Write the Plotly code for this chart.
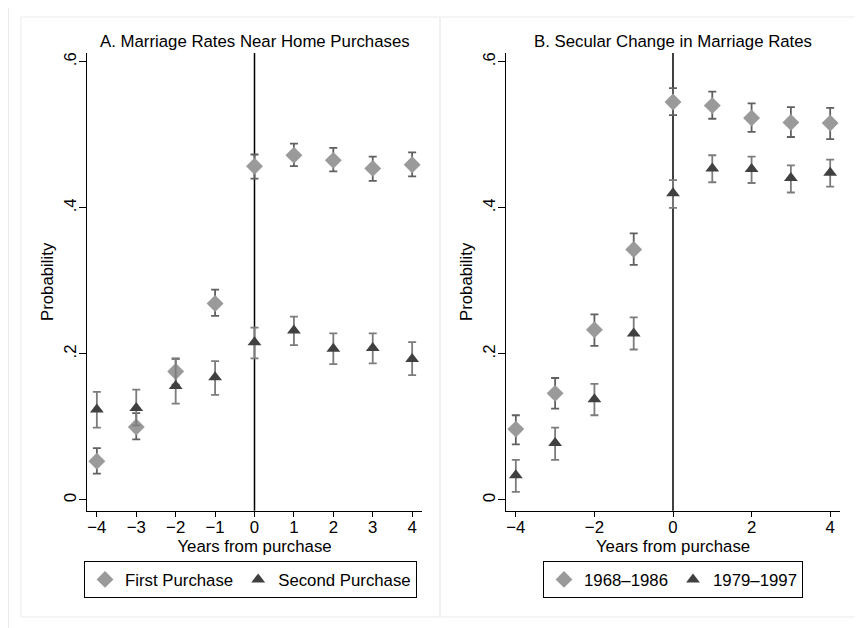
import plotly.graph_objects as go

years = [-4, -3, -2, -1, 0, 1, 2, 3, 4]

# Panel A: marriage rates near home purchases
first_purchase = [0.053, 0.100, 0.176, 0.269, 0.457, 0.472, 0.465, 0.454, 0.459]
first_hi = [0.071, 0.119, 0.194, 0.288, 0.473, 0.488, 0.482, 0.470, 0.476]
first_lo = [0.036, 0.083, 0.158, 0.252, 0.440, 0.457, 0.450, 0.437, 0.443]

second_purchase = [0.124, 0.126, 0.156, 0.168, 0.216, 0.232, 0.207, 0.208, 0.193]
second_hi = [0.148, 0.151, 0.193, 0.190, 0.236, 0.251, 0.228, 0.228, 0.216]
second_lo = [0.099, 0.102, 0.132, 0.144, 0.194, 0.212, 0.186, 0.187, 0.171]

# Panel B: secular change in marriage rates
cohort_68 = [0.097, 0.146, 0.233, 0.343, 0.545, 0.540, 0.523, 0.517, 0.516]
cohort_68_hi = [0.116, 0.167, 0.254, 0.365, 0.564, 0.559, 0.543, 0.538, 0.537]
cohort_68_lo = [0.076, 0.125, 0.211, 0.322, 0.527, 0.522, 0.504, 0.497, 0.494]

cohort_79 = [0.034, 0.078, 0.138, 0.228, 0.420, 0.454, 0.453, 0.441, 0.448]
cohort_79_hi = [0.055, 0.099, 0.159, 0.250, 0.438, 0.472, 0.470, 0.458, 0.466]
cohort_79_lo = [0.011, 0.055, 0.116, 0.206, 0.400, 0.435, 0.434, 0.421, 0.429]

y_ticks = [0, 0.2, 0.4, 0.6]
y_labels = ["0", ".2", ".4", ".6"]

# the page body has an 8px margin, so the figure is sized to fit the window
OFF = 8
W, H = 863 - OFF, 628 - OFF
FONT = "Liberation Sans, Arial, sans-serif"
FS = 16.8
LIGHT = "#9a9a9a"
DARK = "#404040"


def px_x(v):
    return (v - OFF) / W


def px_y(v):
    return 1 - (v - OFF) / H


def add_series(fig, y, hi, lo, name, symbol, color, bar_color, size, xa, ya, legend):
    fig.add_trace(go.Scatter(
        x=years, y=y, mode="markers", name=name,
        marker=dict(symbol=symbol, size=size, color=color, line=dict(width=0)),
        error_y=dict(
            type="data", symmetric=False,
            array=[h - v for h, v in zip(hi, y)],
            arrayminus=[v - l for v, l in zip(y, lo)],
            color=bar_color, thickness=1.8, width=4,
        ),
        xaxis=xa, yaxis=ya, legend=legend,
    ))


fig = go.Figure()
add_series(fig, first_purchase, first_hi, first_lo, "First Purchase",
           "diamond", LIGHT, "#606060", 13, "x", "y", "legend")
add_series(fig, second_purchase, second_hi, second_lo, "Second Purchase",
           "triangle-up", DARK, "#7c7c7c", 12, "x", "y", "legend")
add_series(fig, cohort_68, cohort_68_hi, cohort_68_lo, "1968\u20131986",
           "diamond", LIGHT, "#606060", 13, "x2", "y2", "legend2")
add_series(fig, cohort_79, cohort_79_hi, cohort_79_lo, "1979\u20131997",
           "triangle-up", DARK, "#7c7c7c", 12, "x2", "y2", "legend2")

yrange = [-0.0147, 0.612]
xrange_ = [-4.25, 4.25]
ydom = [px_y(510.7), px_y(53)]

axis_font = dict(family=FONT, size=FS, color="black")
yaxis_common = dict(
    range=yrange, domain=ydom, tickvals=y_ticks, ticktext=y_labels,
    tickangle=-90, ticks="outside", ticklen=7, tickcolor="black",
    showline=True, linecolor="black", linewidth=1.2, showgrid=False,
    zeroline=False, tickfont=axis_font, ticklabelstandoff=-4,
    title=dict(text="Probability", font=axis_font, standoff=3),
)
xaxis_common = dict(
    range=xrange_, ticks="outside", ticklen=5, tickcolor="black",
    showline=True, linecolor="black", linewidth=1.2, showgrid=False,
    zeroline=False, tickfont=axis_font, ticklabelstandoff=-4,
    title=dict(text="Years from purchase", font=axis_font, standoff=0),
)

legend_common = dict(
    orientation="h", yanchor="middle", xanchor="center",
    bordercolor="black", borderwidth=1, bgcolor="white",
    font=dict(family=FONT, size=FS, color="black"),
)

title_font = dict(family=FONT, size=FS, color="black")

fig.update_layout(
    width=W, height=H,
    margin=dict(l=0, r=0, t=0, b=0),
    paper_bgcolor="white", plot_bgcolor="white",
    font=dict(family=FONT, color="black"),
    xaxis=dict(xaxis_common, domain=[px_x(87), px_x(422)], dtick=1, anchor="y"),
    yaxis=dict(yaxis_common, anchor="x"),
    xaxis2=dict(xaxis_common, domain=[px_x(506), px_x(840)],
                tickvals=[-4, -2, 0, 2, 4], anchor="y2"),
    yaxis2=dict(yaxis_common, anchor="x2"),
    legend=dict(legend_common, x=px_x(250.5), y=px_y(579.5)),
    legend2=dict(legend_common, x=px_x(673), y=px_y(579.5)),
    annotations=[
        dict(text="A. Marriage Rates Near Home Purchases", x=px_x(254.5), y=px_y(42),
             xref="paper", yref="paper", xanchor="center", yanchor="middle",
             showarrow=False, font=title_font),
        dict(text="B. Secular Change in Marriage Rates", x=px_x(673), y=px_y(42),
             xref="paper", yref="paper", xanchor="center", yanchor="middle",
             showarrow=False, font=title_font),
    ],
)

# vertical reference line at purchase year
for xr, yr in [("x", "y domain"), ("x2", "y2 domain")]:
    fig.add_shape(type="line", xref=xr, yref=yr, x0=0, x1=0, y0=0, y1=1,
                  line=dict(color="black", width=1.5), layer="below")

# faint panel frames (Stata graph regions)
frame = dict(color="#ebebeb", width=1)
fig.add_shape(type="line", xref="paper", yref="paper",
              x0=px_x(8.5), x1=1, y0=px_y(4.5), y1=px_y(4.5), line=frame)
fig.add_shape(type="line", xref="paper", yref="paper",
              x0=px_x(8.5), x1=px_x(8.5), y0=px_y(4.5), y1=0, line=frame)
fig.add_shape(type="rect", xref="paper", yref="paper",
              x0=px_x(21), x1=px_x(440), y0=px_y(617), y1=px_y(17), line=frame)
fig.add_shape(type="rect", xref="paper", yref="paper",
              x0=px_x(440), x1=px_x(858), y0=px_y(617), y1=px_y(17), line=frame)

fig.write_html("out.html")
